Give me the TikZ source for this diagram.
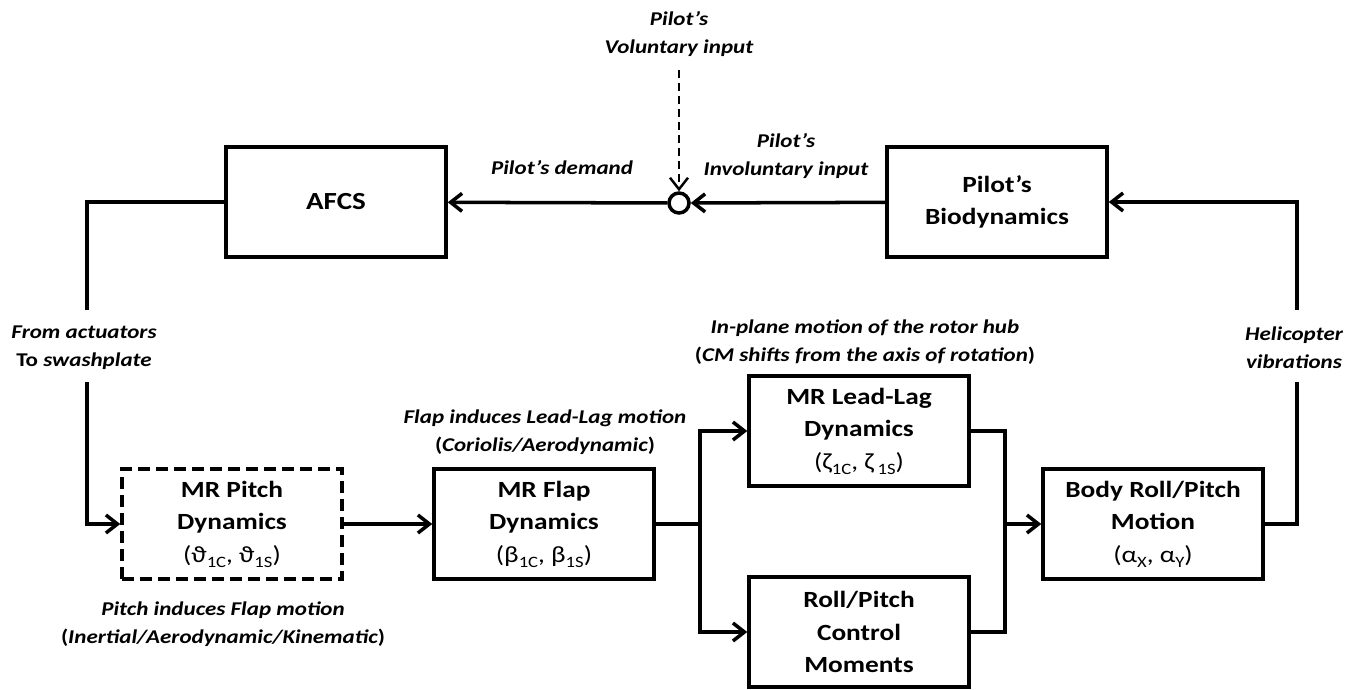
\documentclass[tikz,border=0pt]{standalone}
\usepackage{fontspec}
\setmainfont{Carlito}[FakeStretch=1.18]
\usetikzlibrary{arrows.meta,positioning}
\newcommand\sbs[1]{\raisebox{-0.45ex}{\fontsize{9}{9}\selectfont #1}}

\begin{document}
\begin{tikzpicture}[x=0.02cm,y=-0.02cm,
    line width=2pt,
    >={Straight Barb[length=2.3mm,width=3.6mm]},
    block/.style={draw,minimum width=4.4cm,minimum height=2.2cm,align=center,
        inner sep=2pt,font=\fontsize{13.2}{18.5}\selectfont\bfseries},
    dashblock/.style={block,dash pattern=on 0.24cm off 0.12cm},
    lbl/.style={align=center,font=\fontsize{11.1}{16}\selectfont\bfseries\itshape},
    sumnode/.style={draw,circle,minimum size=0.4cm,inner sep=0pt}]
    \useasboundingbox (0,0) rectangle (1364,689);
    % top loop
    \node[block,font=\fontsize{14}{18.5}\selectfont\bfseries] (afcs) at (336,202) {AFCS};
    \node[block] (bio) at (997,202) {Pilot’s\\Biodynamics};
    \node[sumnode] (sum) at (679,203) {};
    \coordinate (volin) at (679,70);
    \node[lbl] (vol) at (679,34) {Pilot’s\\Voluntary input};
    \node[lbl] (demand) at (562,168) {Pilot’s demand};
    \node[lbl] (invol) at (786,156) {Pilot’s\\Involuntary input};
    % bottom chain
    \node[dashblock] (pitch) at (232,524) {MR Pitch\\Dynamics\\{\mdseries(ϑ\sbs{1C}, ϑ\sbs{1S})}};
    \node[block] (flap) at (544,524) {MR Flap\\Dynamics\\{\mdseries(β\sbs{1C}, β\sbs{1S})}};
    \node[block] (leadlag) at (859,431) {MR Lead-Lag\\Dynamics\\{\mdseries(ζ\sbs{1C}, ζ\,\sbs{1S})}};
    \node[block] (moments) at (859,632) {Roll/Pitch\\Control\\Moments};
    \node[block] (body) at (1153,524) {Body Roll/Pitch\\Motion\\{\mdseries(α\sbs{X}, α\sbs{Y})}};
    \node[lbl] (pitchind) at (223,624) {Pitch induces Flap motion\\{\upshape(}Inertial/Aerodynamic/Kinematic{\upshape)}};
    \node[lbl] (flapind) at (545,432) {Flap induces Lead-Lag motion\\{\upshape(}Coriolis/Aerodynamic{\upshape)}};
    \node[lbl] (hub) at (865,342) {In-plane motion of the rotor hub\\{\upshape(}CM shifts from the axis of rotation{\upshape)}};
    % side labels
    \node[lbl] (act) at (84,348) {From actuators\\{\upshape To} swashplate};
    \node[lbl] (vib) at (1294,348) {Helicopter\\vibrations};
    \coordinate (acttop) at (87,310);
    \coordinate (actbot) at (87,382);
    \coordinate (vibtop) at (1297,310);
    \coordinate (vibbot) at (1297,382);
    \coordinate (split) at (700,524);
    \coordinate (merge) at (1005,524);
    % connectors
    \draw[->] (sum) -- (afcs);
    \draw[->] (bio) -- (sum);
    \draw[->,line width=1.4pt,dash pattern=on 0.16cm off 0.1cm] (volin) -- (sum);
    \draw (afcs.west) -| (acttop);
    \draw[->] (actbot) |- (pitch.west);
    \draw[->] (pitch) -- (flap);
    \draw (flap.east) -- (split);
    \draw[->] (split) |- (leadlag.west);
    \draw[->] (split) |- (moments.west);
    \draw (leadlag.east) -| (merge);
    \draw (moments.east) -| (merge);
    \draw[->] (merge) -- (body);
    \draw (body.east) -| (vibbot);
    \draw[->] (vibtop) |- (bio.east);
\end{tikzpicture}
\end{document}
